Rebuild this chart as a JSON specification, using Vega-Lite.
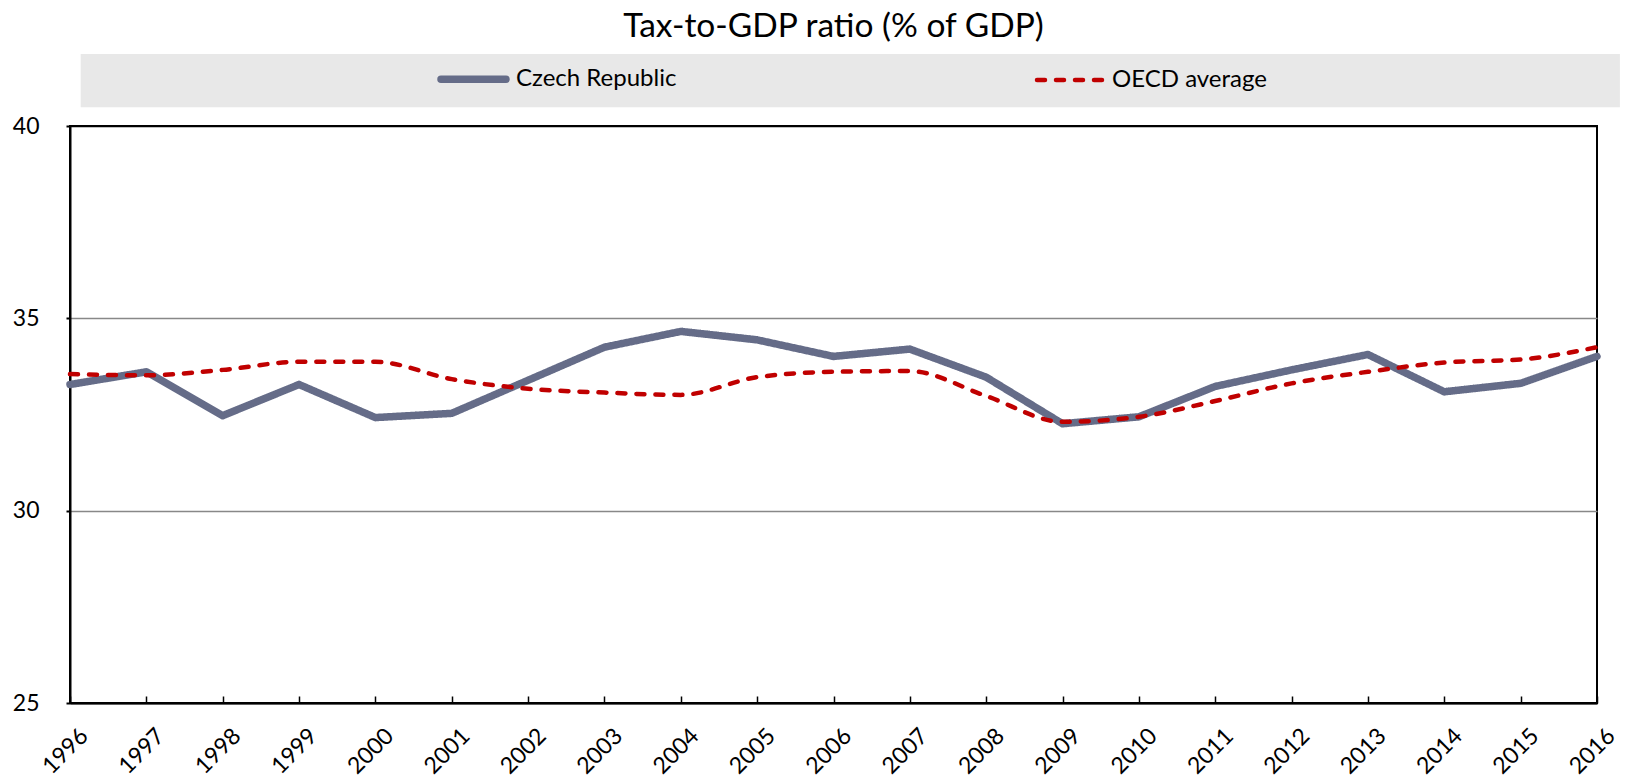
{
  "$schema": "https://vega.github.io/schema/vega-lite/v6.json",
  "width": 1527,
  "height": 577,
  "autosize": {"type": "none"},
  "padding": {"left": 70, "top": 126, "right": 31, "bottom": 77},
  "background": "white",
  "config": {
    "font": "Lato",
    "view": {"stroke": "black", "strokeWidth": 2}
  },
  "title": {
    "text": "Tax-to-GDP ratio (% of GDP)",
    "font": "Lato",
    "fontSize": 33.5,
    "fontWeight": "normal",
    "color": "black",
    "anchor": "middle",
    "frame": "group",
    "offset": -2
  },
  "data": {
    "values": [
      {"year": 1996, "series": "Czech Republic", "value": 33.28},
      {"year": 1997, "series": "Czech Republic", "value": 33.61},
      {"year": 1998, "series": "Czech Republic", "value": 32.47},
      {"year": 1999, "series": "Czech Republic", "value": 33.28},
      {"year": 2000, "series": "Czech Republic", "value": 32.42},
      {"year": 2001, "series": "Czech Republic", "value": 32.53},
      {"year": 2002, "series": "Czech Republic", "value": 33.39},
      {"year": 2003, "series": "Czech Republic", "value": 34.25},
      {"year": 2004, "series": "Czech Republic", "value": 34.66},
      {"year": 2005, "series": "Czech Republic", "value": 34.44},
      {"year": 2006, "series": "Czech Republic", "value": 34.01},
      {"year": 2007, "series": "Czech Republic", "value": 34.2},
      {"year": 2008, "series": "Czech Republic", "value": 33.47},
      {"year": 2009, "series": "Czech Republic", "value": 32.26},
      {"year": 2010, "series": "Czech Republic", "value": 32.44},
      {"year": 2011, "series": "Czech Republic", "value": 33.23},
      {"year": 2012, "series": "Czech Republic", "value": 33.66},
      {"year": 2013, "series": "Czech Republic", "value": 34.06},
      {"year": 2014, "series": "Czech Republic", "value": 33.09},
      {"year": 2015, "series": "Czech Republic", "value": 33.31},
      {"year": 2016, "series": "Czech Republic", "value": 34.01},
      {"year": 1996, "series": "OECD average", "value": 33.55},
      {"year": 1997, "series": "OECD average", "value": 33.52},
      {"year": 1998, "series": "OECD average", "value": 33.66},
      {"year": 1999, "series": "OECD average", "value": 33.87},
      {"year": 2000, "series": "OECD average", "value": 33.87},
      {"year": 2001, "series": "OECD average", "value": 33.42},
      {"year": 2002, "series": "OECD average", "value": 33.17},
      {"year": 2003, "series": "OECD average", "value": 33.07},
      {"year": 2004, "series": "OECD average", "value": 33.01},
      {"year": 2005, "series": "OECD average", "value": 33.47},
      {"year": 2006, "series": "OECD average", "value": 33.61},
      {"year": 2007, "series": "OECD average", "value": 33.63},
      {"year": 2008, "series": "OECD average", "value": 32.98},
      {"year": 2009, "series": "OECD average", "value": 32.31},
      {"year": 2010, "series": "OECD average", "value": 32.44},
      {"year": 2011, "series": "OECD average", "value": 32.85},
      {"year": 2012, "series": "OECD average", "value": 33.31},
      {"year": 2013, "series": "OECD average", "value": 33.61},
      {"year": 2014, "series": "OECD average", "value": 33.85},
      {"year": 2015, "series": "OECD average", "value": 33.93},
      {"year": 2016, "series": "OECD average", "value": 34.25}
    ]
  },
  "layer": [
    {
      "data": {"values": [{}]},
      "mark": {"type": "rect", "color": "#e8e8e8", "clip": false},
      "encoding": {
        "x": {"datum": 1996.14, "type": "quantitative"},
        "x2": {"datum": 2016.3},
        "y": {"datum": 41.87, "type": "quantitative"},
        "y2": {"datum": 40.49}
      }
    },
    {
      "transform": [{"filter": "datum.series === 'Czech Republic'"}],
      "mark": {"type": "line", "interpolate": "linear", "strokeCap": "round", "strokeJoin": "round"},
      "encoding": {
        "x": {
          "field": "year", "type": "quantitative",
          "scale": {"domain": [1996, 2016], "nice": false, "zero": false},
          "axis": {
            "values": [1996, 1997, 1998, 1999, 2000, 2001, 2002, 2003, 2004, 2005, 2006, 2007, 2008, 2009, 2010, 2011, 2012, 2013, 2014, 2015, 2016],
            "format": "d", "labelAngle": -45, "labelAlign": "right", "labelBaseline": "middle",
            "labelFontSize": 23, "labelColor": "black", "labelPadding": 36, "labelOffset": 14,
            "labelFlush": false, "labelOverlap": false,
            "tickSize": -7, "tickColor": "black", "tickWidth": 1.5,
            "domainColor": "black", "domainWidth": 2, "grid": false, "title": null
          }
        },
        "y": {
          "field": "value", "type": "quantitative",
          "scale": {"domain": [25, 40], "nice": false, "zero": false},
          "axis": {
            "values": [25, 30, 35, 40],
            "labelFontSize": 23, "labelColor": "black", "labelPadding": 27, "labelFlush": false,
            "tickSize": 4, "tickColor": "black", "tickWidth": 2,
            "domainColor": "black", "domainWidth": 2,
            "grid": true,
            "gridColor": {"condition": {"test": "datum.value == 40 || datum.value == 25", "value": "black"}, "value": "#888888"},
            "gridWidth": 1.5,
            "title": null
          }
        },
        "color": {
          "field": "series", "type": "nominal",
          "scale": {"domain": ["Czech Republic", "OECD average"], "range": ["#656c88", "#c00000"]},
          "legend": {"orient": "none", "legendX": 367, "legendY": -83.5, "direction": "horizontal", "columns": 2, "title": null, "symbolType": "stroke", "symbolSize": 4225, "labelFontSize": 24, "labelColor": "black", "labelOffset": 6, "labelLimit": 500, "columnPadding": 351, "padding": 0, "encode": {"symbols": {"update": {"strokeCap": {"value": "round"}}}}}
        },
        "strokeDash": {
          "field": "series", "type": "nominal",
          "scale": {"domain": ["Czech Republic", "OECD average"], "range": [[1, 0], [8, 11]]},
          "legend": {"orient": "none", "legendX": 367, "legendY": -83.5, "direction": "horizontal", "columns": 2, "title": null, "symbolType": "stroke", "symbolSize": 4225, "labelFontSize": 24, "labelColor": "black", "labelOffset": 6, "labelLimit": 500, "columnPadding": 351, "padding": 0, "encode": {"symbols": {"update": {"strokeCap": {"value": "round"}}}}}
        },
        "strokeWidth": {
          "field": "series", "type": "nominal",
          "scale": {"domain": ["Czech Republic", "OECD average"], "range": [7.5, 4.5]},
          "legend": {"orient": "none", "legendX": 367, "legendY": -83.5, "direction": "horizontal", "columns": 2, "title": null, "symbolType": "stroke", "symbolSize": 4225, "labelFontSize": 24, "labelColor": "black", "labelOffset": 6, "labelLimit": 500, "columnPadding": 351, "padding": 0, "encode": {"symbols": {"update": {"strokeCap": {"value": "round"}}}}}
        }
      }
    },
    {
      "transform": [{"filter": "datum.series === 'OECD average'"}],
      "mark": {"type": "line", "interpolate": "monotone", "strokeCap": "round", "strokeJoin": "round"},
      "encoding": {
        "x": {"field": "year", "type": "quantitative"},
        "y": {"field": "value", "type": "quantitative"},
        "color": {"field": "series", "type": "nominal"},
        "strokeDash": {"field": "series", "type": "nominal"},
        "strokeWidth": {"field": "series", "type": "nominal"}
      }
    }
  ]
}
